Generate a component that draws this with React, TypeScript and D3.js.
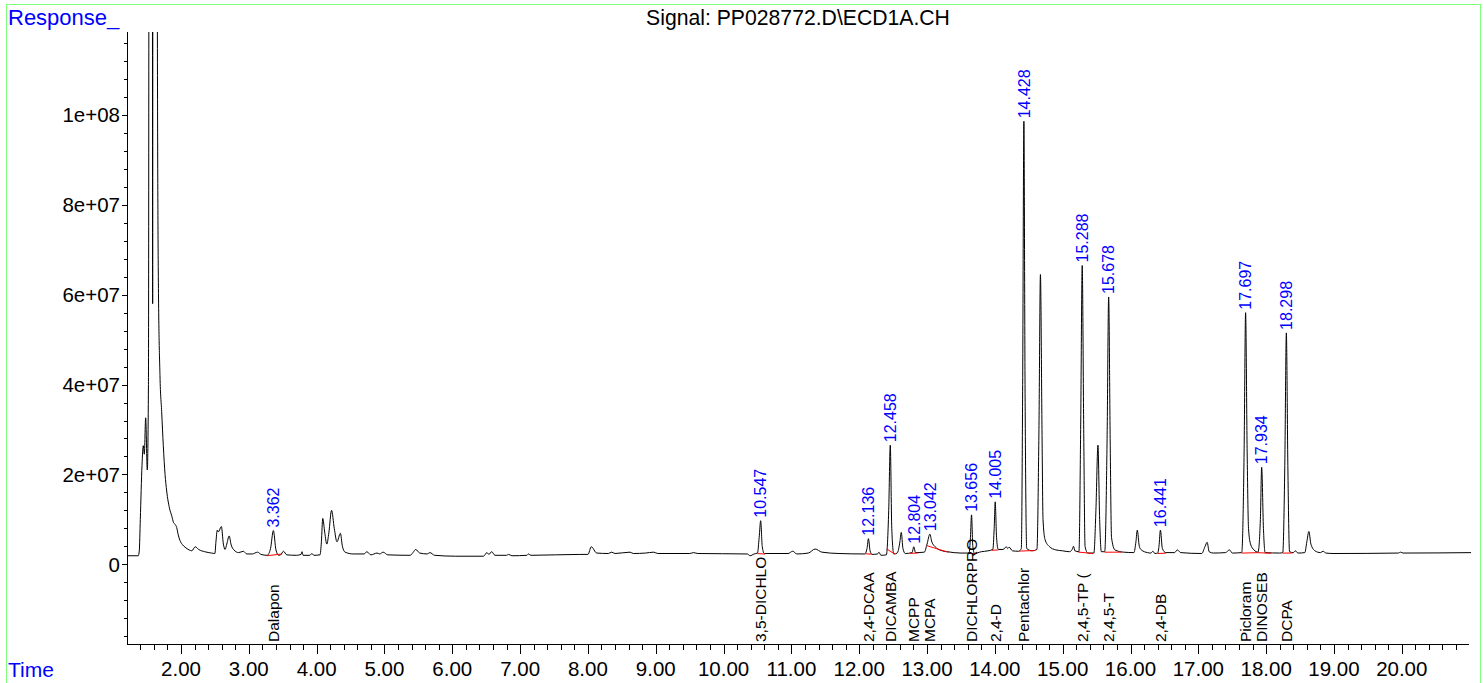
import React from 'react';
import * as d3 from 'd3';

// chromatogram trace: [time (min), response (millions)]
const TRACE: [number, number][] = [
  [1.2, 1.9], [1.37, 1.9], [1.385, 3.0], [1.4, 10], [1.425, 22], [1.444, 26.4], [1.459, 24.5],
  [1.479, 32.6], [1.503, 21], [1.52, 40], [1.535, 260], [1.575, 260], [1.582, 58], [1.588, 260],
  [1.645, 260], [1.652, 118], [1.665, 65.5], [1.69, 42], [1.715, 34], [1.739, 26.4], [1.765, 20],
  [1.789, 16.3], [1.83, 12.5], [1.863, 10.8], [1.89, 9.3], [1.912, 8.9], [1.936, 8.2], [1.96, 6.5],
  [1.985, 5.3], [2.02, 4.4], [2.06, 3.8], [2.12, 3.2], [2.16, 3.0], [2.21, 3.9], [2.26, 3.3],
  [2.35, 2.8], [2.45, 2.5], [2.5, 2.4], [2.515, 5], [2.535, 7.6], [2.55, 7.2], [2.595, 8.4],
  [2.625, 4.5], [2.65, 3.3], [2.675, 4.5], [2.71, 6.3], [2.74, 4.3], [2.78, 3.2], [2.85, 2.6],
  [2.92, 2.9], [2.97, 2.3], [3.05, 2.3], [3.13, 2.7], [3.18, 2.2], [3.27, 2.0], [3.32, 3.5],
  [3.362, 7.5], [3.4, 3.2], [3.44, 2.0], [3.47, 2.1], [3.51, 2.9], [3.56, 2.1], [3.7, 2.0],
  [3.77, 2.2], [3.785, 2.8], [3.8, 2.0], [3.9, 2.0], [3.93, 2.4], [3.96, 2.0], [4.05, 2.1],
  [4.07, 5], [4.09, 10.2], [4.12, 7], [4.15, 4.5], [4.18, 7], [4.22, 12.0], [4.26, 8], [4.3, 5.0],
  [4.35, 6.9], [4.38, 4], [4.42, 2.7], [4.54, 2.3], [4.7, 2.3], [4.74, 2.8], [4.8, 2.1], [4.89, 2.5],
  [4.93, 2.3], [4.98, 2.7], [5.05, 2.1], [5.38, 2.0], [5.42, 2.6], [5.46, 3.3], [5.52, 2.5],
  [5.63, 2.3], [5.67, 2.6], [5.74, 2.0], [6.05, 1.8], [6.46, 1.8], [6.51, 2.6], [6.54, 2.2],
  [6.58, 2.8], [6.63, 2.0], [6.8, 2.0], [6.83, 2.2], [6.88, 1.9], [7.1, 2.0], [7.12, 2.3],
  [7.16, 2.0], [7.88, 2.2], [8.0, 2.2], [8.05, 3.9], [8.13, 2.5], [8.3, 2.4], [8.35, 2.7],
  [8.4, 2.4], [8.62, 2.7], [8.67, 2.4], [8.85, 2.5], [8.97, 2.7], [9.03, 2.4], [9.5, 2.4],
  [9.56, 2.6], [9.62, 2.4], [10.35, 2.3], [10.39, 1.9], [10.45, 2.3], [10.5, 2.5], [10.525, 6],
  [10.547, 9.7], [10.57, 4], [10.6, 2.4], [10.95, 2.4], [11.02, 2.9], [11.08, 2.3], [11.25, 2.5],
  [11.35, 3.4], [11.45, 2.7], [11.7, 2.4], [12.08, 2.3], [12.115, 3.5], [12.136, 5.7], [12.16, 3.0],
  [12.19, 2.2], [12.27, 2.3], [12.29, 2.7], [12.32, 2.0], [12.4, 2.1], [12.435, 12], [12.458, 26.5],
  [12.48, 8], [12.51, 2.3], [12.56, 2.5], [12.6, 5], [12.62, 7.1], [12.645, 3.5], [12.68, 2.4],
  [12.78, 2.6], [12.804, 3.9], [12.83, 2.6], [12.96, 2.7], [13.0, 4.5], [13.042, 6.7], [13.07, 5.0],
  [13.12, 3.9], [13.2, 3.1], [13.3, 2.8], [13.5, 2.5], [13.62, 2.5], [13.64, 6], [13.656, 11.0],
  [13.675, 4], [13.7, 2.4], [13.8, 2.8], [13.9, 3.0], [13.97, 3.3], [13.99, 8], [14.005, 13.9],
  [14.025, 6], [14.05, 3.3], [14.12, 3.3], [14.17, 3.9], [14.19, 3.5], [14.21, 3.8], [14.26, 3.0],
  [14.35, 2.9], [14.39, 3.5], [14.41, 40], [14.428, 98.6], [14.445, 40], [14.47, 3.5], [14.55, 3.0],
  [14.62, 3.3], [14.65, 30], [14.672, 64.5], [14.695, 30], [14.71, 10], [14.74, 5.5], [14.8, 4],
  [14.9, 3.2], [15.0, 3.0], [15.1, 2.8], [15.14, 3.3], [15.16, 4.0], [15.18, 3.0], [15.24, 2.8],
  [15.265, 30], [15.288, 66.5], [15.31, 30], [15.33, 4], [15.37, 2.5], [15.46, 2.5], [15.49, 12],
  [15.52, 26.5], [15.545, 10], [15.57, 2.8], [15.62, 2.8], [15.655, 28], [15.678, 59.5],
  [15.7, 28], [15.72, 6], [15.77, 3.2], [15.9, 2.7], [16.05, 2.6], [16.08, 5], [16.1, 7.6],
  [16.13, 4], [16.16, 3.2], [16.25, 2.6], [16.3, 2.5], [16.33, 2.9], [16.36, 2.4], [16.4, 2.5],
  [16.42, 4], [16.441, 7.6], [16.47, 3.5], [16.52, 2.6], [16.65, 2.6], [16.69, 3.2], [16.74, 2.6],
  [17.05, 2.4], [17.1, 4], [17.13, 4.9], [17.16, 2.8], [17.22, 2.5], [17.4, 2.6], [17.46, 3.2],
  [17.5, 2.5], [17.64, 2.6], [17.675, 25], [17.697, 56], [17.72, 25], [17.74, 8], [17.77, 4.5],
  [17.82, 3.2], [17.88, 2.7], [17.915, 10], [17.934, 21.6], [17.96, 8], [17.985, 2.6], [18.2, 2.5],
  [18.245, 2.6], [18.275, 22], [18.298, 51.5], [18.32, 22], [18.345, 2.8], [18.4, 2.6], [18.43, 3.0],
  [18.47, 2.5], [18.57, 2.6], [18.6, 5], [18.63, 7.3], [18.66, 4.5], [18.72, 3.0], [18.8, 2.6],
  [18.84, 2.9], [18.88, 2.5], [19.0, 2.4], [19.95, 2.5], [19.98, 2.7], [20.02, 2.5], [21.05, 2.6],
];

// integrated peaks
const PEAK_RT = [3.362, 10.547, 12.136, 12.458, 12.804, 13.042, 13.656, 14.005, 14.428, 15.288, 15.678, 16.441, 17.697, 17.934, 18.298];
const PEAK_NAMES = ['Dalapon', '3,5-DICHLO', '2,4-DCAA', 'DICAMBA', 'MCPP', 'MCPA', 'DICHLORPRO', '2,4-D', 'Pentachlor', '2,4,5-TP (', '2,4,5-T', '2,4-DB', 'Picloram', 'DINOSEB', 'DCPA'];
const PEAK_START = [3.264, 10.498, 12.085, 12.405, 12.749, 12.995, 13.609, 13.953, 14.36, 15.23, 15.62, 16.4, 17.64, 17.88, 18.244];
const PEAK_END = [3.485, 10.611, 12.184, 12.528, 12.871, 13.314, 13.732, 14.051, 14.59, 15.45, 15.87, 16.524, 17.88, 18.07, 18.392];

const X_MAJOR = d3.range(2, 21, 1);
const X_MINOR = d3.range(1.4, 20.9, 0.2);
const Y_TICKS = [0, 20, 40, 60, 80, 100];
const Y_TICK_LABELS = ['0', '2e+07', '4e+07', '6e+07', '8e+07', '1e+08'];
const Y_MINOR = d3.range(-16, 118, 4);

const TITLE = 'Signal: PP028772.D\\ECD1A.CH';
const FONT = '"Liberation Sans", Arial, sans-serif';
const BLUE = '#0000ff';

const W = 1484;
const H = 683;
const L = 127;
const R = 1469;
const T = 32;
const B = 644;

function valueAt(t: number): number {
  const i = d3.bisector((d: [number, number]) => d[0]).left(TRACE, t);
  if (i <= 0) return TRACE[0][1];
  if (i >= TRACE.length) return TRACE[TRACE.length - 1][1];
  const [t0, v0] = TRACE[i - 1];
  const [t1, v1] = TRACE[i];
  return v0 + ((v1 - v0) * (t - t0)) / (t1 - t0);
}

export default function App() {
  const x = d3.scaleLinear().domain([1.2038, 20.991]).range([L, R]);
  const y = d3.scaleLinear().domain([-17.74, 118.47]).range([B, T]);

  const line = d3
    .line<[number, number]>()
    .x(d => x(d[0]))
    .y(d => y(d[1]))
    .curve(d3.curveMonotoneX);

  const fmt = d3.format('.2f');
  const isMajor = (t: number) => X_MAJOR.some(m => Math.abs(m - t) < 1e-6);

  return (
    <div style={{ position: 'absolute', left: 0, top: 0 }}>
      <svg width={W} height={H} style={{ display: 'block', background: '#fff' }} fontFamily={FONT}>
        <defs>
          <clipPath id="plot">
            <rect x={L} y={T} width={R - L + 2} height={B - T} />
          </clipPath>
        </defs>
        <rect x={6.5} y={4.5} width={1474} height={H + 10} fill="none" stroke="#80ff80" strokeWidth={1} />

        <text x={8} y={24.5} fontSize={22} fill={BLUE}>Response_</text>
        <text x={8} y={677} fontSize={21} fill={BLUE}>Time</text>
        <text x={798} y={25} fontSize={21.2} textAnchor="middle" fill="#000">{TITLE}</text>

        {/* y axis */}
        <line x1={L + 0.5} x2={L + 0.5} y1={T} y2={B} stroke="#000" />
        {Y_MINOR.filter(v => !Y_TICKS.includes(v)).map(v => (
          <line key={'ym' + v} x1={L - 3} x2={L} y1={Math.round(y(v)) + 0.5} y2={Math.round(y(v)) + 0.5} stroke="#000" />
        ))}
        {Y_TICKS.map((v, i) => (
          <g key={'y' + v}>
            <line x1={L - 5} x2={L} y1={Math.round(y(v)) + 0.5} y2={Math.round(y(v)) + 0.5} stroke="#000" />
            <text x={L - 7} y={y(v)} dy="0.36em" fontSize={20.5} textAnchor="end" fill="#000">
              {Y_TICK_LABELS[i]}
            </text>
          </g>
        ))}

        {/* x axis */}
        <line x1={L} x2={R} y1={B + 0.5} y2={B + 0.5} stroke="#000" />
        {X_MINOR.filter(t => !isMajor(t)).map(t => (
          <line key={'xm' + t.toFixed(1)} x1={Math.round(x(t)) + 0.5} x2={Math.round(x(t)) + 0.5} y1={B} y2={B + 6} stroke="#000" />
        ))}
        {X_MAJOR.map(t => (
          <g key={'x' + t}>
            <line x1={Math.round(x(t)) + 0.5} x2={Math.round(x(t)) + 0.5} y1={B} y2={B + 10} stroke="#000" />
            <text x={x(t)} y={676} fontSize={20.5} textAnchor="middle" fill="#000">{fmt(t)}</text>
          </g>
        ))}

        {/* trace */}
        <g clipPath="url(#plot)">
          <path d={line(TRACE) ?? ''} fill="none" stroke="#000" strokeWidth={1} />
          {PEAK_RT.map((rt, i) => (
            <line
              key={'base' + rt}
              x1={x(PEAK_START[i])}
              x2={x(PEAK_END[i])}
              y1={y(valueAt(PEAK_START[i])) + 0.5}
              y2={y(valueAt(PEAK_END[i])) + 0.5}
              stroke="#ff0000"
              strokeWidth={1}
            />
          ))}
        </g>

        {/* peak retention time labels */}
        {PEAK_RT.map(rt => {
          const px = x(rt);
          const py = y(valueAt(rt)) - 3;
          return (
            <text key={'rt' + rt} transform={`translate(${px},${py}) rotate(-90)`} dy="0.36em" fontSize={16} fill={BLUE}>
              {rt.toFixed(3)}
            </text>
          );
        })}

        {/* compound names */}
        {PEAK_RT.map((rt, i) => (
          <text key={'nm' + rt} transform={`translate(${x(rt)},${B - 2}) rotate(-90)`} dy="0.36em" fontSize={15.5} fill="#000">
            {PEAK_NAMES[i]}
          </text>
        ))}
      </svg>
    </div>
  );
}
